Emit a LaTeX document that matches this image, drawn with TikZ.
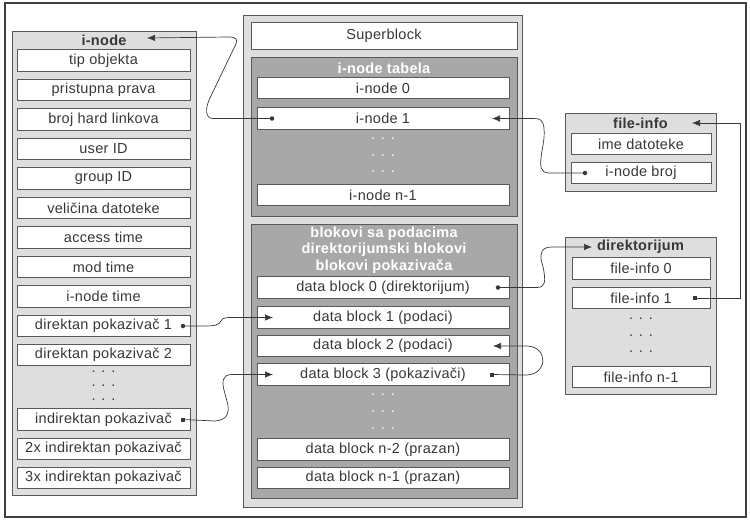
\documentclass[tikz,border=0pt]{standalone}
\usepackage{fontspec}
\setmainfont[LetterSpace=2]{Liberation Sans}
\usetikzlibrary{arrows.meta}
\definecolor{panel}{gray}{0.87}
\definecolor{tablefill}{gray}{0.66}
\definecolor{edge}{gray}{0.35}
\definecolor{ink}{gray}{0.22}
\begin{document}
\begin{tikzpicture}[x=1pt,y=-1pt,
  font=\fontsize{14.5}{16.5}\selectfont,
  panelbox/.style={draw=edge, fill=panel, line width=0.8pt, inner sep=0pt, outer sep=0pt},
  tablebox/.style={draw=edge, fill=tablefill, line width=0.8pt, inner sep=0pt, outer sep=0pt},
  cell/.style={draw=edge, fill=white, line width=0.8pt, text=ink, inner sep=0pt, outer sep=0pt, minimum height=21.5pt},
  lcell/.style={cell, minimum width=173pt},
  mcell/.style={cell, minimum width=252pt},
  fcell/.style={cell, minimum width=140pt},
  dcell/.style={cell, minimum width=138pt},
  hdr/.style={font=\fontsize{14.5}{16.5}\selectfont\bfseries, text=ink, inner sep=0pt},
  whdr/.style={font=\fontsize{14.5}{16.5}\selectfont\bfseries, text=white, inner sep=0pt, align=center},
  dotrow/.style={inner sep=0pt, text=ink},
  wdotrow/.style={inner sep=0pt, text=white},
  rdot/.style={circle, fill=ink, inner sep=0pt, minimum size=4.5pt},
  sqdot/.style={rectangle, fill=ink, inner sep=0pt, minimum size=4pt},
  link/.style={draw=ink, line width=0.7pt},
  linkarrow/.style={link, -{Latex[length=8pt,width=6.5pt]}},
]
% page and outer frame
\useasboundingbox (0,0) rectangle (750,523);
\draw[line width=1.6pt, draw=black!75] (5,3) rectangle (746,517);

% ---------------- i-node (left column) ----------------
\node[panelbox, minimum width=184pt, minimum height=464pt] (inodepanel) at (104,263) {};
\node[hdr] (inodehdr) at (104,40) {i-node};
\node[lcell] (tip)  at (103.5,60.5)  {tip objekta};
\node[lcell] (prav) at (103.5,90)    {pristupna prava};
\node[lcell] (hard) at (103.5,119.5) {broj hard linkova};
\node[lcell] (uid)  at (103.5,149)   {user ID};
\node[lcell] (gid)  at (103.5,178.5) {group ID};
\node[lcell] (size) at (103.5,208)   {veličina datoteke};
\node[lcell] (atim) at (103.5,237.5) {access time};
\node[lcell] (mtim) at (103.5,267)   {mod time};
\node[lcell] (itim) at (103.5,296.5) {i-node time};
\node[lcell] (dp1)  at (103.5,326)   {direktan pokazivač 1};
\node[lcell] (dp2)  at (103.5,355)   {direktan pokazivač 2};
\node[dotrow] (ld1) at (103.5,372) {. . .};
\node[dotrow] (ld2) at (103.5,386) {. . .};
\node[dotrow] (ld3) at (103.5,400) {. . .};
\node[lcell] (ip)   at (103.5,419.5) {indirektan pokazivač};
\node[lcell] (ip2)  at (103.5,449)   {2x indirektan pokazivač};
\node[lcell] (ip3)  at (103.5,478)   {3x indirektan pokazivač};

% ---------------- disk layout (middle column) ----------------
\node[panelbox, minimum width=279pt, minimum height=492pt] (disk) at (382.5,261) {};
\node[cell, minimum width=266pt, minimum height=27pt] (super) at (384,35.5) {Superblock};

\node[tablebox, minimum width=266pt, minimum height=159pt] (itable) at (384,136.5) {};
\node[whdr] (itablehdr) at (384,68) {i-node tabela};
\node[mcell] (in0) at (383,88)    {i-node 0};
\node[mcell] (in1) at (383,118.5) {i-node 1};
\node[wdotrow] (md1) at (383,139) {. . .};
\node[wdotrow] (md2) at (383,156) {. . .};
\node[wdotrow] (md3) at (383,172) {. . .};
\node[mcell] (inn) at (383,195)   {i-node n-1};

\node[tablebox, minimum width=266pt, minimum height=274pt] (dtable) at (384,361) {};
\node[whdr] (dtablehdr) at (384,250) {blokovi sa podacima\\direktorijumski blokovi\\blokovi pokazivača};
\node[mcell] (db0) at (383,287.5) {data block 0 (direktorijum)};
\node[mcell] (db1) at (383,317.5) {data block 1 (podaci)};
\node[mcell] (db2) at (383,346)   {data block 2 (podaci)};
\node[mcell] (db3) at (383,374.5) {data block 3 (pokazivači)};
\node[wdotrow] (md4) at (383,395) {. . .};
\node[wdotrow] (md5) at (383,412) {. . .};
\node[wdotrow] (md6) at (383,429) {. . .};
\node[mcell] (dbn2) at (383,449.5) {data block n-2 (prazan)};
\node[mcell] (dbn1) at (383,478)   {data block n-1 (prazan)};

% ---------------- file-info (right) ----------------
\node[panelbox, minimum width=151pt, minimum height=78pt] (fipanel) at (640.5,152) {};
\node[hdr] (fihdr) at (640.5,123) {file-info};
\node[fcell] (fname) at (641,144) {ime datoteke};
\node[fcell] (fbroj) at (641,173) {i-node broj};

% ---------------- direktorijum (right) ----------------
\node[panelbox, minimum width=151pt, minimum height=157pt] (dirpanel) at (640.5,315.5) {};
\node[hdr] (dirhdr) at (640.5,247) {direktorijum};
\node[dcell] (fi0) at (641,268.5) {file-info 0};
\node[dcell] (fi1) at (641,298)   {file-info 1};
\node[dotrow] (rd1) at (641,319) {. . .};
\node[dotrow] (rd2) at (641,336) {. . .};
\node[dotrow] (rd3) at (641,352) {. . .};
\node[dcell] (fin) at (641,377)   {file-info n-1};

% ---------------- pointer markers ----------------
\node[rdot]  (in1dot) at ([xshift=15pt]in1.west) {};
\node[rdot]  (brojdot) at ([xshift=14pt]fbroj.west) {};
\node[sqdot] (fi1dot) at ([xshift=-15pt]fi1.east) {};
\node[rdot]  (db0dot) at ([xshift=-11pt]db0.east) {};
\node[sqdot] (db3dot) at ([xshift=-17pt]db3.east) {};
\node[rdot]  (dp1dot) at ([xshift=-7pt]dp1.east) {};
\node[sqdot] (ipdot)  at ([xshift=-7pt]ip.east) {};

% arrow targets
\coordinate (inodetip) at (147,38);
\coordinate (in1tip)   at ([xshift=-17pt]in1.east);
\coordinate (fitip)    at (692,123);
\coordinate (dirtip)   at (592,247);
\coordinate (db2tip)   at ([xshift=-16pt]db2.east);
\coordinate (db1tip)   at ([xshift=16pt]db1.west);
\coordinate (db3tip)   at ([xshift=16pt]db3.west);

% ---------------- connectors ----------------
% i-node 1 -> i-node record
\draw[linkarrow] (in1dot.center) -- (213,118.5)
  .. controls (205,118.5) and (205,108) .. (210,98) -- (233,50)
  .. controls (240,38) and (236,37) .. (228,37) -- (inodetip);
% file-info i-node broj -> i-node 1
\draw[linkarrow] (brojdot.center) -- (549,173)
  .. controls (540,173) and (540,165) .. (541,158)
  .. controls (542,148) and (545,140) .. (544,128)
  .. controls (543,120) and (540,118.5) .. (534,118.5) -- (in1tip);
% directory entry -> file-info record
\draw[linkarrow] (fi1dot.center) -- (740,298) -- (740,123) -- (fitip);
% data block 0 -> directory
\draw[linkarrow] (db0dot.center) -- (537,287.5)
  .. controls (546,287.5) and (545,280) .. (544,272)
  .. controls (543,264) and (540,260) .. (541,255)
  .. controls (542,249) and (545,247) .. (552,247) -- (dirtip);
% data block 3 -> data block 2
\draw[linkarrow] (db3dot.center) -- (526,375)
  .. controls (548,375) and (549,346) .. (526,346) -- (db2tip);
% direktan pokazivac 1 -> data block 1
\draw[linkarrow] (dp1dot.center) -- (205,326)
  .. controls (215,326) and (219,325) .. (221,321)
  .. controls (223,317) and (227,317.5) .. (235,317.5) -- (db1tip);
% indirektan pokazivac -> data block 3
\draw[linkarrow] (ipdot.center) -- (215,421)
  .. controls (228,420) and (229,412) .. (228,405) -- (224,390)
  .. controls (222,382) and (222,374.5) .. (232,374.5) -- (db3tip);
\end{tikzpicture}
\end{document}
